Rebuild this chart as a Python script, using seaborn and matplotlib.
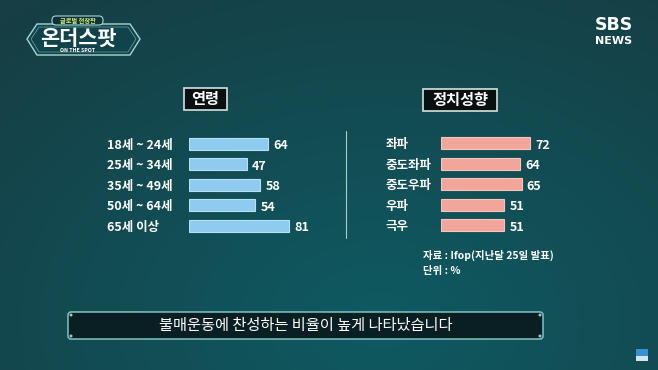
import numpy as np
import seaborn as sns
from matplotlib import pyplot as plt
from matplotlib.patches import FancyBboxPatch, Polygon, Rectangle, Circle

age_groups = ['18세 ~ 24세', '25세 ~ 34세', '35세 ~ 49세', '50세 ~ 64세', '65세 이상']
age_values = [64, 47, 58, 54, 81]
ideology = ['좌파', '중도좌파', '중도우파', '우파', '극우']
ideology_values = [72, 64, 65, 51, 51]

sns.set_theme(style='white')
plt.rcParams['font.family'] = ['Noto Sans CJK KR', 'DejaVu Sans']

W, H = 658, 370
fig = plt.figure(figsize=(6.58, 3.70), dpi=100)

# background axes in pixel coords
bg = fig.add_axes([0, 0, 1, 1])
yy, xx = np.mgrid[0:H, 0:W]
d = np.clip(np.sqrt(((xx - 380) / 560) ** 2 + ((yy - 320) / 400) ** 2), 0, 1)
c0 = np.array([15, 90, 98]) / 255
c1 = np.array([22, 62, 68]) / 255
bg.imshow(c0 + (c1 - c0) * d[..., None], extent=[0, W, H, 0], aspect='auto', zorder=0)
bg.set_xlim(0, W)
bg.set_ylim(H, 0)
bg.axis('off')


def panel(x0, ytop, labels, values, color, edge, pad_pt):
    ax = fig.add_axes([x0 / W, 1 - (ytop + 102.5) / H, 123.4 / W, 102.5 / H])
    sns.barplot(x=values, y=labels, orient='h', ax=ax, color=color, width=0.6,
                edgecolor=edge, linewidth=0.8, saturation=1)
    ax.set_xlim(0, 100)
    ax.set_ylim(4.5, -0.5)
    ax.set_facecolor('none')
    sns.despine(ax=ax, left=True, bottom=True)
    ax.set_xticks([])
    ax.set_xlabel('')
    ax.set_ylabel('')
    ax.tick_params(axis='y', length=0, pad=pad_pt, labelsize=9, labelcolor='white')
    for t in ax.get_yticklabels():
        t.set_ha('left')
        t.set_fontweight('bold')
    labs = ax.bar_label(ax.containers[0], padding=3.8, color='white', fontsize=9, fontweight='bold')
    for t in labs:
        t.xyann = (3.8, -1.4)  # nudge down, CJK font metrics sit high
    return ax


panel(188.7, 133.5, age_groups, age_values, '#8ecbee', '#b8e0f6', 59)
panel(441.3, 133.0, ideology, ideology_values, '#f2a59b', '#f8c4bc', 40)

# section title boxes
for cx, cy, w, txt in [(205.5, 99, 43, '연령'), (460, 99.5, 74, '정치성향')]:
    bg.add_patch(Rectangle((cx - w / 2, cy - 11), w, 22, fc='#0a0f10', ec='#d6e2e2', lw=1.2, zorder=3))
    bg.text(cx, cy, txt, ha='center', va='center', fontsize=11, fontweight='bold', color='white', zorder=4)

# divider
bg.plot([345.5, 345.5], [131, 238], color='#a8cccc', lw=0.8)

# source note
bg.text(423, 255, '자료 : Ifop(지난달 25일 발표)', fontsize=7.5, fontweight='bold', color='white', va='center')
bg.text(423, 271, '단위 : %', fontsize=7.5, fontweight='bold', color='white', va='center')

# caption bar
bg.add_patch(FancyBboxPatch((68, 312), 475, 27, boxstyle='round,pad=0,rounding_size=3',
                            fc='#0a1f23', ec='#8fd0cc', lw=1, zorder=3))
for px, py in [(71, 315), (540, 315), (71, 336), (540, 336)]:
    bg.add_patch(Circle((px, py), 0.8, color='#8fd0cc', zorder=4))
bg.text(305.5, 325.5, '불매운동에 찬성하는 비율이 높게 나타났습니다', ha='center', va='center',
        fontsize=11, fontweight='medium', color='white', zorder=4)

# program logo
bg.add_patch(Polygon([(27, 39), (37, 24), (130, 24), (140, 39), (130, 55), (37, 55)],
                     closed=True, fc='#10434a', ec='#a9d6d0', lw=1, zorder=3))
bg.add_patch(Polygon([(31, 39), (39, 27), (128, 27), (136, 39), (128, 52), (39, 52)],
                     closed=True, fc='none', ec='#6fa8a4', lw=0.5, zorder=3))
bg.add_patch(FancyBboxPatch((52, 16), 51, 9, boxstyle='round,pad=0,rounding_size=4',
                            fc='#0c3338', ec='#a9d6d0', lw=0.8, zorder=4))
bg.text(77.5, 20.5, '글로벌 현장판', ha='center', va='center', fontsize=4.5, fontweight='bold',
        color='#d6ef78', zorder=5)
bg.text(78, 38.5, '온더스팟', ha='center', va='center', fontsize=15, fontweight='heavy', color='white', zorder=5)
bg.text(78, 51, 'ON THE SPOT', ha='center', va='center', fontsize=3.8, fontweight='bold', color='white', zorder=5)

# broadcaster logo
bg.text(613.5, 25.5, 'SBS', ha='center', va='center', fontsize=12.5, fontweight='heavy',
        color='white', family='DejaVu Sans')
bg.text(613.5, 41, 'NEWS', ha='center', va='center', fontsize=8, fontweight='bold',
        color='white', family='DejaVu Sans')
bg.add_patch(Rectangle((636, 349), 12, 7, fc='#3a8fd0', lw=0))
bg.add_patch(Rectangle((636, 356), 12, 5, fc='#cfe6ef', lw=0))

fig.savefig('out.png', dpi=100)
